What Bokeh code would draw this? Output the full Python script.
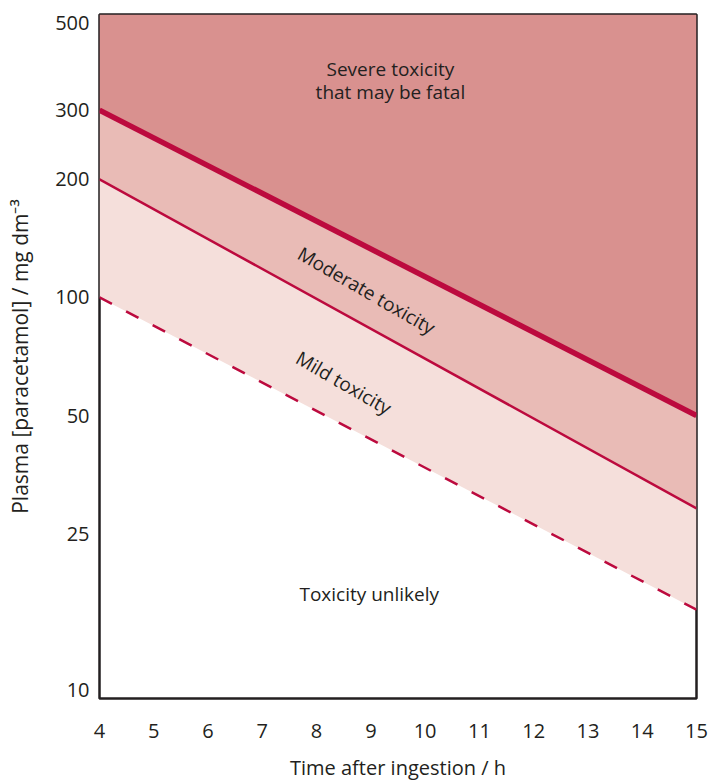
import math
from bokeh.plotting import figure
from bokeh.models import Range1d, FixedTicker, NumeralTickFormatter, ColumnDataSource
from bokeh.core.properties import value
from bokeh.embed import file_html
from bokeh.resources import INLINE

# ---- data ----
time_h = [4, 15]
severe_line = [300, 50]      # thick line
treatment_line = [200, 29]   # thin line
possible_line = [100, 16]    # dashed line
y_max = [526, 526]
y_ticks = [10, 25, 50, 100, 200, 300, 500]
x_ticks = [4, 5, 6, 7, 8, 9, 10, 11, 12, 13, 14, 15]

FONT = "Open Sans"
TXT = "#231f20"
LINE = "#bc0a3e"
C_SEVERE = "#d9918f"
C_MOD = "#e9bbb6"
C_MILD = "#f5dfdb"


def log_at(line, x):
    t = (x - time_h[0]) / (time_h[1] - time_h[0])
    return math.log10(line[0]) * (1 - t) + math.log10(line[1]) * t


def between(upper, lower, x, frac):
    return 10 ** (log_at(upper, x) * (1 - frac) + log_at(lower, x) * frac)


p = figure(width=708, height=783, x_range=Range1d(4, 15), y_range=Range1d(9.5, 526),
           y_axis_type="log", output_backend="svg", toolbar_location=None,
           min_border_left=99, min_border_right=12, min_border_top=14, min_border_bottom=81)

p.background_fill_color = "white"
p.border_fill_color = "white"
p.outline_line_color = TXT
p.outline_line_width = 2.5
p.grid.visible = False

src = ColumnDataSource(dict(x=time_h, sev=severe_line, trt=treatment_line,
                            pos=possible_line, top=y_max))

p.varea(x="x", y1="sev", y2="top", source=src, fill_color=C_SEVERE)
p.varea(x="x", y1="trt", y2="sev", source=src, fill_color=C_MOD)
p.varea(x="x", y1="pos", y2="trt", source=src, fill_color=C_MILD)

p.line(x="x", y="sev", source=src, line_color=LINE, line_width=5.5)
p.line(x="x", y="trt", source=src, line_color=LINE, line_width=2.5)
p.line(x="x", y="pos", source=src, line_color=LINE, line_width=2.5, line_dash="14 16")

txt_kw = dict(text_font=value(FONT), text_font_size="19px", text_color=TXT,
              text_align="center", text_baseline="middle")

# annotations
p.text(x=[9.36, 9.36], y=[382, 334], text=["Severe toxicity", "that may be fatal"], **txt_kw)
p.text(x=[8.92], y=[between(severe_line, treatment_line, 8.92, 0.55)], text=["Moderate toxicity"],
       angle=-30, angle_units="deg", **txt_kw)
p.text(x=[8.50], y=[between(treatment_line, possible_line, 8.50, 0.62)], text=["Mild toxicity"],
       angle=-30, angle_units="deg", **txt_kw)
p.text(x=[8.97], y=[17.5], text=["Toxicity unlikely"], **txt_kw)

# axes
p.xaxis.ticker = FixedTicker(ticks=x_ticks)
p.yaxis.ticker = FixedTicker(ticks=y_ticks)
p.yaxis.formatter = NumeralTickFormatter(format="0")
for ax in (p.xaxis, p.yaxis):
    ax.axis_line_color = None
    ax.major_tick_line_color = None
    ax.minor_tick_line_color = None
    ax.major_tick_out = 0
    ax.major_tick_in = 0
    ax.major_label_text_font = FONT
    ax.major_label_text_font_size = "20px"
    ax.major_label_text_color = TXT
    ax.axis_label_text_font = FONT
    ax.axis_label_text_font_size = "20px"
    ax.axis_label_text_font_style = "normal"
    ax.axis_label_text_color = TXT

p.xaxis.axis_label = "Time after ingestion / h"
p.xaxis.major_label_standoff = 25
p.xaxis.axis_label_standoff = 13
p.yaxis.axis_label = "Plasma [paracetamol] / mg dm\u207b\u00b3"
p.yaxis.axis_label_text_font_size = "21px"
p.yaxis.major_label_standoff = 10
p.yaxis.axis_label_standoff = 18

open("out.html", "w").write(file_html(p, INLINE))
